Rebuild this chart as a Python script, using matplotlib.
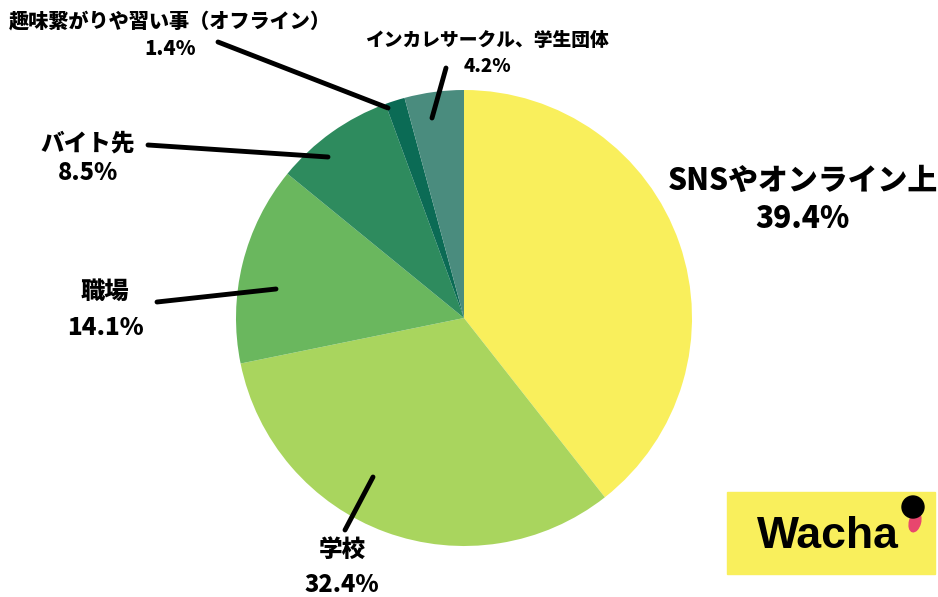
import matplotlib.pyplot as plt
from matplotlib.patches import Rectangle, Circle, Ellipse

plt.rcParams['font.family'] = ['Noto Sans CJK JP', 'DejaVu Sans']

labels = ['SNSやオンライン上', '学校', '職場', 'バイト先', '趣味繋がりや習い事（オフライン）', 'インカレサークル、学生団体']
values = [39.4, 32.4, 14.1, 8.5, 1.4, 4.2]
colors = ['#F9EF5C', '#A9D55E', '#6AB75E', '#2E8B5E', '#0B6B55', '#4A8C7E']

# label text position (px), font size, leader line from -> to (px, top-left origin)
label_pos = [(803, 180), (342, 550), (105, 292), (88, 143), (170, 21), (487, 40)]
label_size = [21.5, 17, 17.5, 17, 14.5, 13.5]
pct_gap = [38, 35, 36, 30, 28, 26]
lines = [None, ((373, 477), (345, 530)), ((157, 302), (276, 289)),
         ((148, 145), (328, 157)), ((218, 42), (388, 108)), ((446, 68), (432, 118))]

W, H = 938, 597
fig = plt.figure(figsize=(W / 100, H / 100), dpi=100)
ax = fig.add_axes([0, 0, 1, 1])

ax.pie(values, colors=colors, startangle=90, counterclock=False,
       center=(464, H - 318), radius=228, frame=True)
ax.set_xlim(0, W)
ax.set_ylim(0, H)
ax.set_aspect('equal')
ax.axis('off')

for lab, v, (x, y), fs, g, ln in zip(labels, values, label_pos, label_size, pct_gap, lines):
    ax.text(x, H - y, lab, ha='center', va='center', fontsize=fs, fontweight=900, color='black')
    ax.text(x, H - y - g, f'{v}%', ha='center', va='center', fontsize=fs, fontweight=900, color='black')
    if ln:
        (x0, y0), (x1, y1) = ln
        ax.plot([x0, x1], [H - y0, H - y1], color='black', lw=3.5, solid_capstyle='round')

# logo
ax.add_patch(Rectangle((727, H - 574), 208, 82, color='#F9EF5C', zorder=3))
ax.text(828, H - 536, 'Wacha', ha='center', va='center', fontsize=32, fontweight='bold',
        family='Liberation Sans', color='black', zorder=4)
ax.add_patch(Ellipse((915, H - 522), 11, 20, angle=-15, color='#E8466E', zorder=4))
ax.add_patch(Circle((913, H - 507), 11, color='black', zorder=5))

fig.savefig('out.png', dpi=100, facecolor='white')
